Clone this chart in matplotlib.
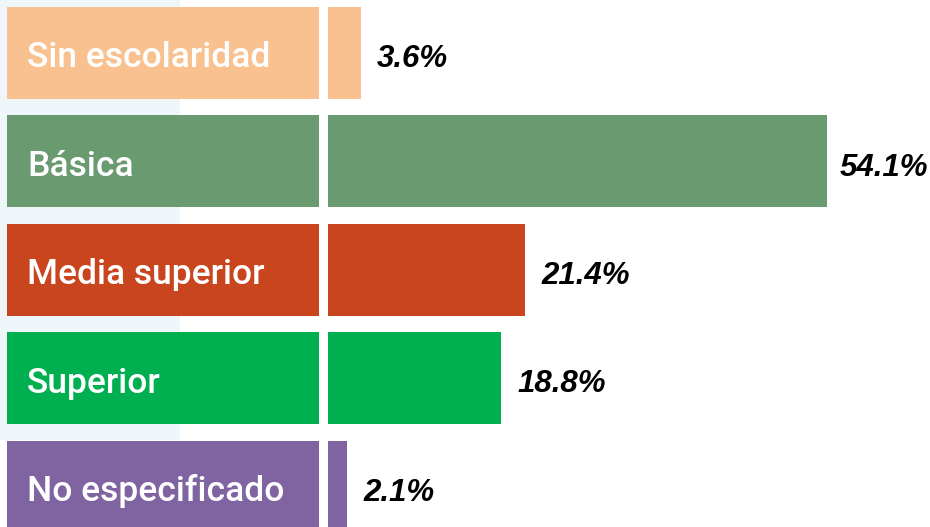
import matplotlib
matplotlib.use("Agg")
import matplotlib.pyplot as plt
from matplotlib.patches import Rectangle

categories = ["Sin escolaridad", "Básica", "Media superior", "Superior", "No especificado"]
values = [3.6, 54.1, 21.4, 18.8, 2.1]
value_labels = ["3.6%", "54.1%", "21.4%", "18.8%", "2.1%"]
colors = ["#F9C18F", "#6A9A70", "#C9451E", "#00B050", "#8064A2"]

W, H, DPI = 930, 527, 100
PX_PER_PCT = 9.22          # horizontal scale of the bars
ZERO_PX = 328              # pixel column where bars start
ROW_PX = 108.5             # distance between row centres
FIRST_ROW_PX = 52.5        # centre of the first row from the top

def px_x(p):
    return (p - ZERO_PX) / PX_PER_PCT

def px_y(p):
    return (p - FIRST_ROW_PX) / ROW_PX

fig = plt.figure(figsize=(W / DPI, H / DPI), dpi=DPI)
ax = fig.add_axes([0, 0, 1, 1])
ax.set_xlim(px_x(0), px_x(W))
ax.set_ylim(px_y(H), px_y(0))
ax.axis("off")

# pale panel behind the left part of the labels
ax.add_patch(Rectangle((px_x(0), px_y(0)), px_x(180) - px_x(0), px_y(440) - px_y(0),
                       facecolor="#EEF6FA", edgecolor="none", zorder=0))

bar_h = 92 / ROW_PX
ys = list(range(len(categories)))
baseline_off = 14.5 / ROW_PX

# category boxes on the left
box_left, box_right = px_x(7), px_x(319)
ax.barh(ys, [box_right - box_left] * len(ys), left=box_left, height=bar_h,
        color=colors, zorder=1)
for y, cat in zip(ys, categories):
    ax.text(px_x(27), y + baseline_off, cat, color="white", fontsize=25.5,
            fontweight="medium", family=["Roboto", "DejaVu Sans"],
            va="baseline", ha="left", zorder=2)

# value bars
ax.barh(ys, values, left=0, height=bar_h, color=colors, zorder=1)
right_limit = px_x(W - 2)
for y, v, lab in zip(ys, values, value_labels):
    t = ax.text(v + 16 / PX_PER_PCT, y + baseline_off, lab, color="black",
                fontsize=22.5, fontweight="bold", fontstyle="italic",
                family=["Liberation Sans", "DejaVu Sans"],
                va="baseline", ha="left", zorder=2)
    fig.canvas.draw()
    bb = t.get_window_extent()
    x_end = ax.transData.inverted().transform((bb.x1, bb.y0))[0]
    if x_end > right_limit:
        t.set_x(right_limit)
        t.set_ha("right")

fig.savefig("out.png", dpi=DPI)
